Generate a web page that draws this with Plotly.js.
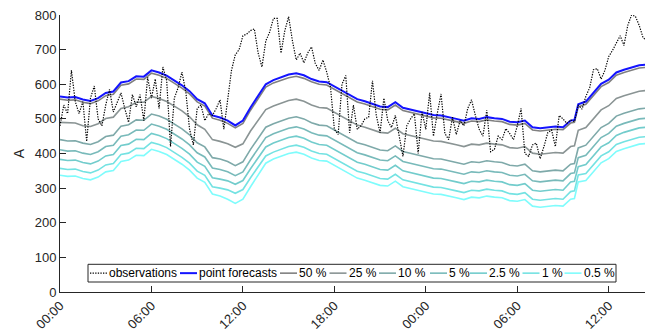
<!DOCTYPE html>
<html>
<head>
<meta charset="utf-8">
<script src="https://cdn.plot.ly/plotly-3.0.1.min.js"></script>
<style>
  html, body { margin: 0; padding: 0; background: #ffffff; }
  #chart { width: 653px; height: 331px; }
</style>
</head>
<body>
<div id="chart"></div>
<script>
// Load current (A): measured observations every 15 minutes,
// point forecast and lower quantile forecasts every 30 minutes.

const startDay = Date.UTC(2016, 0, 4);

// observations, 15-min steps from 00:00 (4 values per hour)
const observations = [
  480, 540, 515, 640,   550, 515, 550, 435,   560, 595, 500, 480,   540, 585, 520, 545,
  575, 530, 490, 570,   535, 570, 495, 620,   560, 615, 530, 650,   610, 420, 560, 590,
  635, 580, 470, 425,   530, 540, 495, 515,   510, 530, 555, 470,   560, 640, 685, 700,
  740, 745, 755, 760,   690, 650, 725, 750,   790, 790, 690, 755,   795, 725, 670, 690,
  662, 690, 708, 660,   640, 670, 635, 590,   470, 455, 600, 625,   460, 540, 470, 480,
  500, 505, 610, 510,   460, 560, 495, 475,   510, 450, 392, 480,   500, 515, 400, 520,
  470, 575, 450, 515,   572, 458, 440, 505,   455, 495, 480, 530,   555, 510, 470, 450,
  525, 405, 412, 450,   440, 472, 458, 440,   480, 530, 400, 392,   425, 430, 385, 420,
  460, 468, 420, 510,   500, 487, 497, 492,   540, 528, 565, 590,   642, 645, 615, 640,
  680, 698, 720, 740,   712, 770, 800, 796,   770, 735, 725
];

// forecast issue hours: half-hourly, with the update step just before 34:00
const forecastHours = [
  0, 0.5, 1, 1.5, 2, 2.5, 3, 3.5, 4, 4.5, 5, 5.5, 6, 6.5, 7, 7.5, 8, 8.5, 9, 9.5,
  10, 10.5, 11, 11.5, 12, 12.5, 13, 13.5, 14, 14.5, 15, 15.5, 16, 16.5, 17, 17.5,
  18, 18.5, 19, 19.5, 20, 20.5, 21, 21.5, 22, 22.5, 23, 23.5, 24, 24.5, 25, 25.5,
  26, 26.5, 27, 27.5, 28, 28.5, 29, 29.5, 30, 30.5, 31, 31.5, 32, 32.5, 33, 33.5,
  33.75, 34, 34.5, 35, 35.5, 36, 36.5, 37, 37.5, 38, 38.5
];

const pointForecast = [
  565, 562, 563, 556, 552, 560, 575, 579, 605, 609, 623, 622, 640, 634, 625, 611, 597, 580, 557, 545,
  510, 504, 495, 481, 495, 533, 568, 600, 612, 620, 628, 632, 626, 615, 608, 606,
  594, 581, 569, 557, 551, 544, 536, 534, 548, 532, 527, 522, 518, 511, 510, 506,
  500, 495, 502, 500, 505, 502, 500, 492, 490, 495, 476, 473, 475, 478, 476, 495,
  497, 542, 550, 575, 601, 613, 634, 642, 649, 655, 657
];

const q50 = [
  557, 554, 555, 548, 544, 552, 567, 571, 597, 601, 615, 614, 632, 626, 617, 603, 589, 572, 549, 537,
  502, 496, 487, 474, 487, 525, 560, 592, 604, 611, 619, 623, 617, 607, 600, 598,
  586, 573, 561, 549, 543, 536, 528, 526, 540, 524, 519, 514, 510, 503, 502, 498,
  492, 487, 494, 492, 497, 494, 492, 484, 482, 487, 468, 465, 467, 470, 469, 488,
  490, 535, 542, 567, 593, 605, 626, 634, 641, 647, 649
];

const q25 = [
  490, 488, 488, 480, 478, 486, 501, 505, 530, 535, 548, 548, 565, 559, 550, 537, 523, 506, 483, 470,
  440, 435, 428, 418, 428, 465, 495, 527, 537, 545, 553, 557, 551, 540, 533, 531,
  519, 506, 494, 482, 476, 469, 461, 459, 473, 457, 452, 447, 443, 436, 435, 431,
  425, 420, 427, 425, 430, 427, 425, 417, 415, 420, 401, 398, 400, 403, 401, 420,
  422, 467, 475, 500, 526, 538, 559, 567, 574, 580, 582
];

const q10 = [
  440, 436, 437, 430, 426, 434, 449, 453, 479, 483, 497, 496, 514, 508, 499, 485, 471, 454, 431, 419,
  388, 384, 377, 365, 376, 412, 444, 476, 486, 494, 502, 506, 500, 489, 482, 480,
  468, 455, 443, 431, 425, 418, 410, 408, 422, 406, 401, 396, 392, 385, 384, 380,
  374, 369, 376, 374, 379, 376, 374, 366, 364, 369, 350, 347, 349, 352, 350, 369,
  371, 416, 424, 449, 475, 487, 508, 516, 523, 529, 531
];

const q5 = [
  411, 407, 408, 401, 397, 405, 420, 424, 450, 454, 468, 467, 485, 479, 470, 456, 442, 425, 402, 390,
  358, 354, 347, 336, 347, 382, 414, 446, 457, 465, 473, 477, 471, 460, 453, 451,
  439, 426, 414, 402, 396, 389, 381, 379, 393, 377, 372, 367, 363, 356, 355, 351,
  345, 340, 347, 345, 350, 347, 345, 337, 335, 340, 321, 318, 320, 323, 321, 342,
  344, 388, 395, 420, 446, 458, 479, 487, 494, 500, 502
];

const q2_5 = [
  383, 380, 381, 374, 370, 378, 393, 397, 423, 427, 441, 440, 458, 452, 443, 429, 415, 398, 375, 363,
  330, 326, 321, 311, 322, 356, 388, 419, 430, 438, 446, 450, 444, 433, 426, 424,
  412, 399, 387, 375, 369, 362, 354, 352, 366, 350, 345, 340, 336, 329, 328, 324,
  318, 313, 320, 318, 323, 320, 318, 310, 308, 313, 294, 291, 293, 296, 294, 318,
  320, 362, 368, 393, 419, 431, 452, 461, 468, 474, 476
];

const q1 = [
  357, 354, 355, 348, 344, 352, 367, 371, 397, 401, 415, 414, 432, 426, 417, 403, 389, 372, 349, 337,
  304, 300, 295, 285, 296, 330, 362, 393, 404, 412, 420, 424, 418, 407, 400, 398,
  386, 373, 361, 349, 343, 336, 328, 326, 340, 324, 319, 314, 310, 303, 302, 298,
  292, 287, 294, 292, 297, 294, 292, 284, 282, 287, 268, 265, 267, 270, 268, 290,
  292, 338, 342, 367, 393, 405, 426, 434, 441, 447, 449
];

const q0_5 = [
  337, 334, 335, 328, 324, 332, 347, 351, 377, 381, 395, 394, 412, 406, 397, 383, 369, 352, 329, 317,
  283, 277, 268, 256, 268, 304, 340, 372, 384, 392, 400, 404, 398, 387, 380, 378,
  366, 353, 341, 329, 323, 316, 308, 306, 320, 304, 299, 294, 290, 283, 282, 278,
  272, 267, 274, 272, 277, 274, 272, 264, 262, 267, 248, 245, 247, 250, 248, 268,
  270, 318, 322, 347, 373, 385, 406, 414, 421, 427, 429
];

const quantileLabels = ['50 %', '25 %', '10 %', '5 %', '2.5 %', '1 %', '0.5 %'];

// ---------------------------------------------------------------
function hourToDate(h) {
  const d = new Date(startDay + Math.round(h * 3600000));
  return d.toISOString().slice(0, 19).replace('T', ' ');
}
const obsTimes = observations.map((_, i) => hourToDate(i * 0.25));
const fcTimes = forecastHours.map(hourToDate);

const textColor = '#262626';
const fontFamily = '"Liberation Sans", Arial, Helvetica, sans-serif';

const quantileSeries = [q50, q25, q10, q5, q2_5, q1, q0_5];
const quantileColors = ['#808080', '#8a9494', '#7ea9a9', '#78baba', '#72cccc', '#74e2e2', '#7ffcfc'];

const traces = [];
// draw the widest quantile first so the upper lines sit on top
for (let k = quantileSeries.length - 1; k >= 0; k--) {
  traces.push({
    x: fcTimes, y: quantileSeries[k], type: 'scatter', mode: 'lines',
    name: quantileLabels[k], line: { color: quantileColors[k], width: 1.6 },
    hoverinfo: 'skip'
  });
}
traces.push({
  x: fcTimes, y: pointForecast, type: 'scatter', mode: 'lines',
  name: 'point forecasts', line: { color: '#1414ff', width: 2 }, hoverinfo: 'skip'
});
traces.push({
  x: obsTimes, y: observations, type: 'scatter', mode: 'lines',
  name: 'observations', line: { color: '#000000', width: 1.2, dash: '1.3px,1.3px' },
  hoverinfo: 'skip'
});

// plot area geometry in pixels (used to place the legend box)
const M = { l: 60, r: 8, t: 15, b: 39 };
const PW = 653 - M.l - M.r, PH = 331 - M.t - M.b;
const px = v => (v - M.l) / PW;
const py = v => (331 - M.b - v) / PH;

// legend entries: label, colour, dash, sample start (px)
const legendItems = [
  ['observations', '#000000', '1.3px,1.3px', 90],
  ['point forecasts', '#1414ff', 'solid', 180],
  [quantileLabels[0], quantileColors[0], 'solid', 280],
  [quantileLabels[1], quantileColors[1], 'solid', 329.5],
  [quantileLabels[2], quantileColors[2], 'solid', 379],
  [quantileLabels[3], quantileColors[3], 'solid', 430],
  [quantileLabels[4], quantileColors[4], 'solid', 470],
  [quantileLabels[5], quantileColors[5], 'solid', 522.5],
  [quantileLabels[6], quantileColors[6], 'solid', 564.5]
];
const legTop = 264.3, legBottom = 282, legLeft = 88, legRight = 616;
const legMid = (legTop + legBottom) / 2;

const shapes = [{
  type: 'rect', xref: 'paper', yref: 'paper',
  x0: px(legLeft), x1: px(legRight), y0: py(legBottom), y1: py(legTop),
  fillcolor: '#ffffff', line: { color: textColor, width: 1 }, layer: 'above'
}];
const annotations = [];
legendItems.forEach(([label, color, dash, x0]) => {
  shapes.push({
    type: 'line', xref: 'paper', yref: 'paper',
    x0: px(x0), x1: px(x0 + 17), y0: py(legMid), y1: py(legMid),
    line: { color: color, width: label === 'point forecasts' ? 2 : (label === 'observations' ? 1.2 : 1.6), dash: dash },
    layer: 'above'
  });
  annotations.push({
    xref: 'paper', yref: 'paper', x: px(x0 + 18), y: py(legMid),
    xanchor: 'left', yanchor: 'middle', showarrow: false, text: label,
    font: { family: fontFamily, size: 12, color: '#000000' }, borderpad: 0
  });
});

const layout = {
  width: 653, height: 331,
  margin: M,
  paper_bgcolor: '#ffffff', plot_bgcolor: '#ffffff',
  showlegend: false,
  font: { family: fontFamily, size: 13, color: textColor },
  xaxis: {
    type: 'date',
    range: [hourToDate(0), hourToDate(38.38)],
    tick0: hourToDate(0), dtick: 6 * 3600000,
    tickformat: '%H:%M', tickangle: -45,
    ticks: 'inside', ticklen: 6, tickwidth: 1, tickcolor: textColor,
    showline: true, linecolor: textColor, linewidth: 1,
    showgrid: false, zeroline: false,
    tickfont: { family: fontFamily, size: 13, color: textColor }
  },
  yaxis: {
    range: [0, 800], dtick: 100,
    ticks: 'inside', ticklen: 6, tickwidth: 1, tickcolor: textColor,
    showline: true, linecolor: textColor, linewidth: 1,
    showgrid: false, zeroline: false,
    tickfont: { family: fontFamily, size: 13, color: textColor },
    title: { text: 'A', font: { family: fontFamily, size: 14, color: textColor }, standoff: 6 }
  },
  shapes: shapes,
  annotations: annotations
};

Plotly.newPlot('chart', traces, layout, { displayModeBar: false, staticPlot: true });
</script>
</body>
</html>
